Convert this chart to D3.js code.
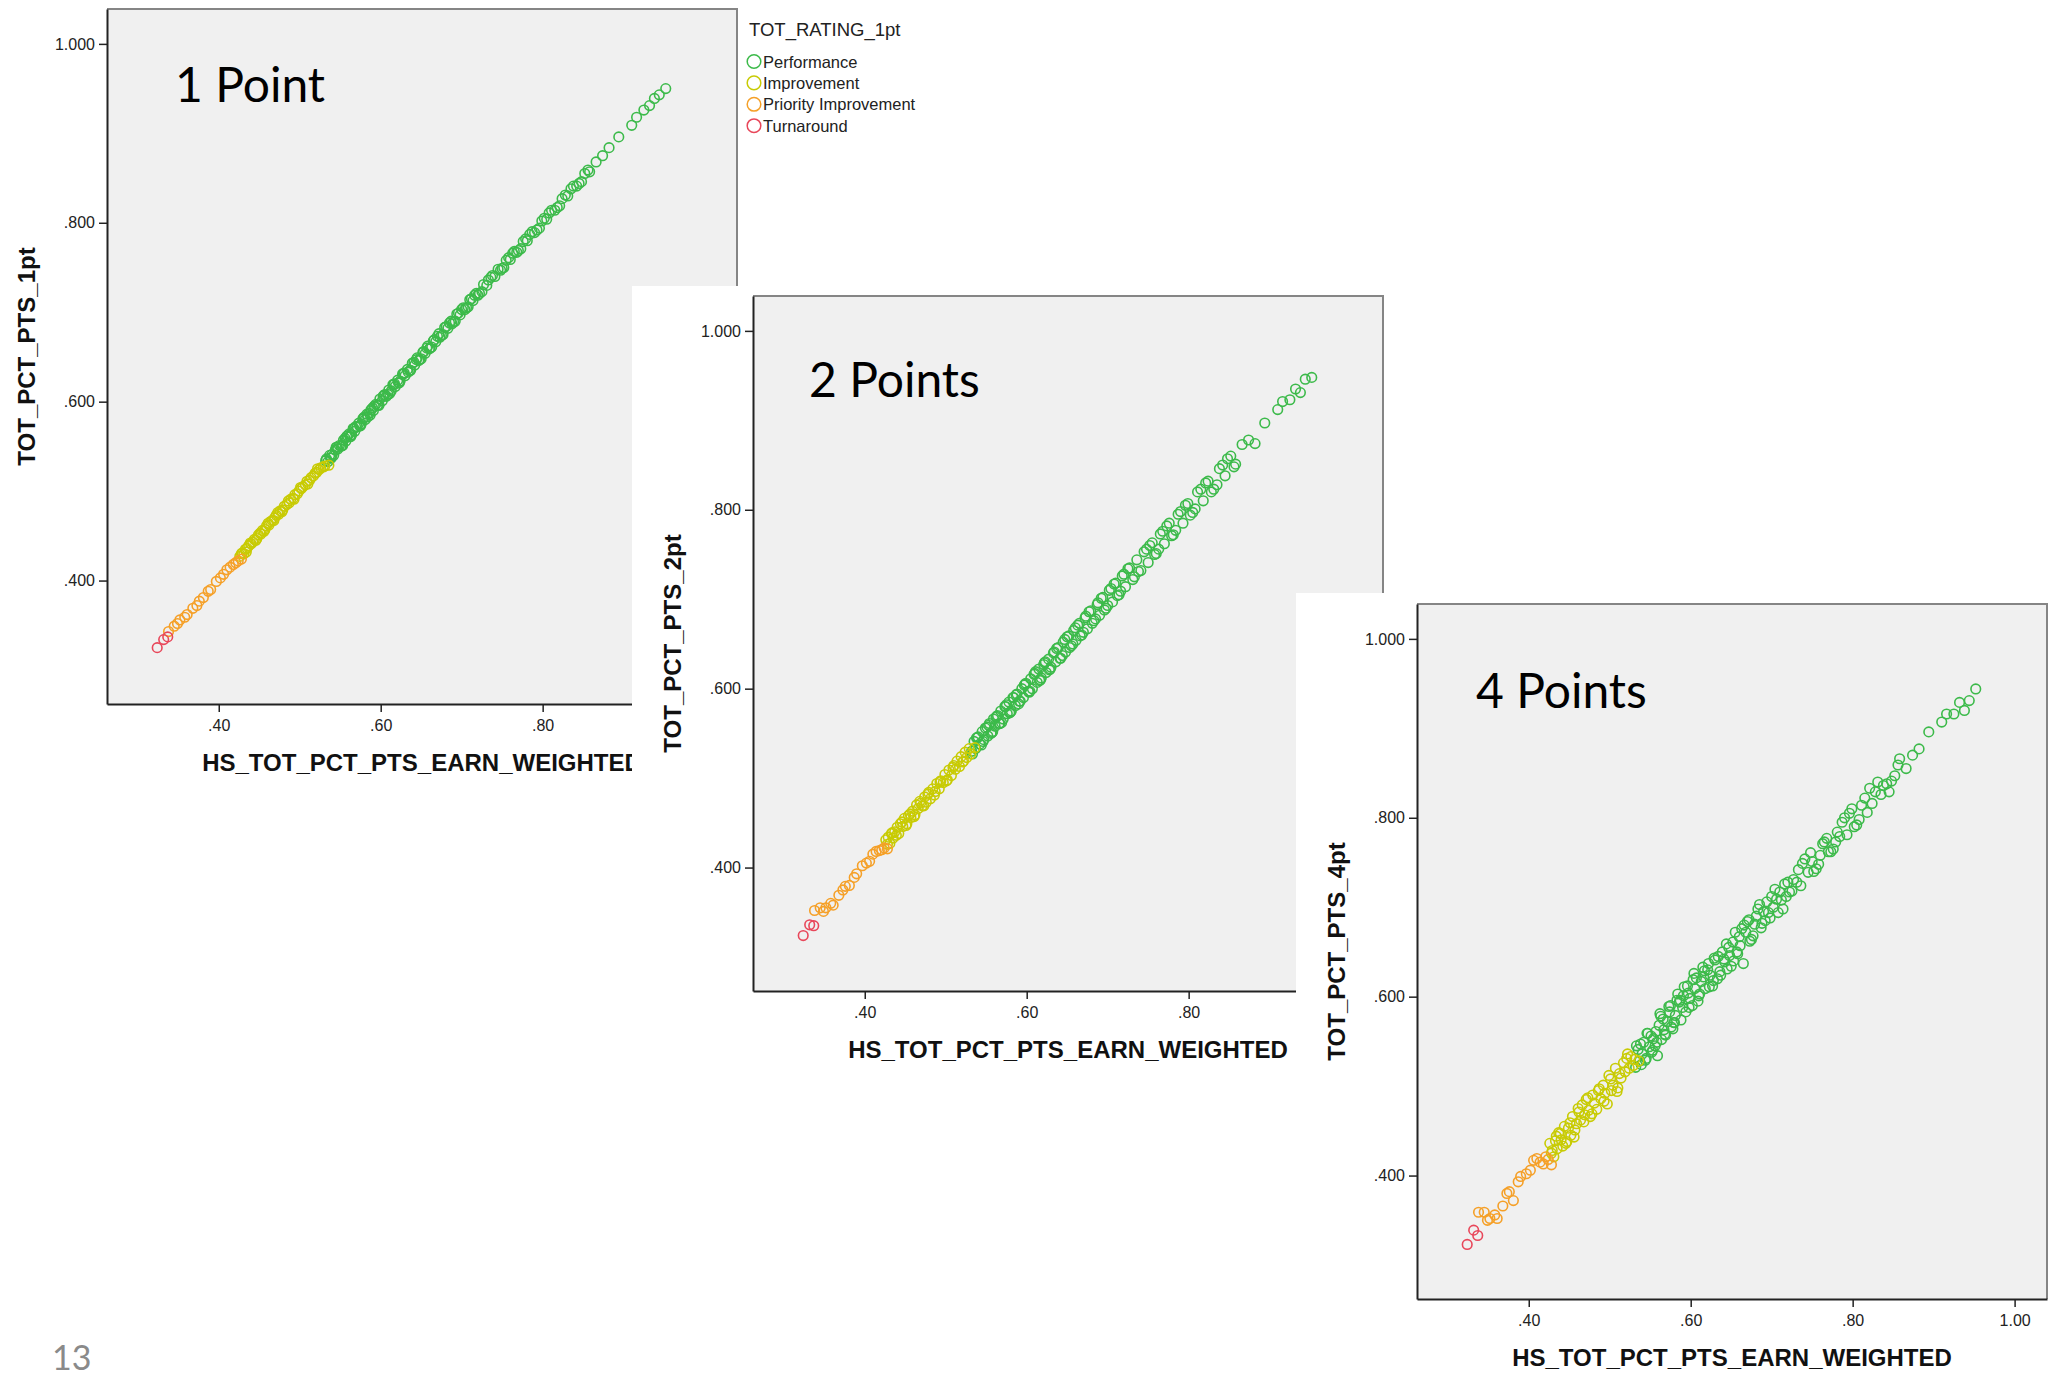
<!DOCTYPE html>
<html>
<head>
<meta charset="utf-8">
<script src="https://cdn.jsdelivr.net/npm/d3@7"></script>
<style>
  body { margin: 0; background: #fff; }
  svg { display: block; }
</style>
</head>
<body>
<svg id="chart" width="2053" height="1376"></svg>
<script>
// rating groups (legend order) and their colours
const ratingNames = ['Performance', 'Improvement', 'Priority Improvement', 'Turnaround'];
const ratingColors = ['#3cba4a', '#c8cb04', '#f5a028', '#e8475a'];

// HS_TOT_PCT_PTS_EARN_WEIGHTED and TOT_PCT_PTS_{1,2,4}pt, per school, grouped by rating
const turnaroundScore = [0.324, 0.332, 0.337];
const turnaround1pt = [0.325, 0.334, 0.337];
const turnaround2pt = [0.324, 0.336, 0.335];
const turnaround4pt = [0.323, 0.339, 0.333];

const priorityScore = [0.338, 0.345, 0.349, 0.352, 0.358, 0.361, 0.368, 0.373, 0.376, 0.381,
  0.387, 0.390, 0.397, 0.402, 0.406, 0.410, 0.414, 0.418, 0.421, 0.424, 0.428];
const priority1pt = [0.343, 0.349, 0.352, 0.356, 0.359, 0.362, 0.369, 0.372, 0.377, 0.381,
  0.388, 0.390, 0.399, 0.403, 0.407, 0.412, 0.415, 0.418, 0.420, 0.422, 0.424];
const priority2pt = [0.352, 0.355, 0.351, 0.355, 0.360, 0.358, 0.369, 0.375, 0.379, 0.380,
  0.389, 0.393, 0.402, 0.405, 0.407, 0.415, 0.418, 0.419, 0.420, 0.422, 0.421];
const priority4pt = [0.359, 0.359, 0.350, 0.352, 0.356, 0.352, 0.366, 0.380, 0.382, 0.372,
  0.393, 0.399, 0.402, 0.406, 0.417, 0.419, 0.415, 0.413, 0.421, 0.418, 0.412];

const improvementScore = [0.426, 0.429, 0.431, 0.433, 0.435, 0.437, 0.440, 0.442, 0.444, 0.447,
  0.449, 0.452, 0.454, 0.457, 0.459, 0.462, 0.464, 0.466, 0.469, 0.471,
  0.474, 0.476, 0.479, 0.481, 0.484, 0.487, 0.489, 0.492, 0.494, 0.497,
  0.499, 0.502, 0.504, 0.507, 0.509, 0.512, 0.514, 0.517, 0.519, 0.521,
  0.524, 0.526, 0.529, 0.531, 0.536,
  0.428, 0.434, 0.439, 0.446, 0.451, 0.456, 0.461, 0.468, 0.473, 0.478,
  0.486, 0.493, 0.501, 0.510, 0.522];
const improvement1pt = [0.427, 0.431, 0.430, 0.435, 0.436, 0.439, 0.441, 0.443, 0.446, 0.447,
  0.451, 0.452, 0.456, 0.457, 0.461, 0.462, 0.466, 0.467, 0.470, 0.473,
  0.474, 0.478, 0.479, 0.483, 0.485, 0.487, 0.491, 0.492, 0.496, 0.497,
  0.500, 0.503, 0.505, 0.507, 0.511, 0.512, 0.515, 0.517, 0.520, 0.521,
  0.524, 0.526, 0.527, 0.528, 0.529,
  0.430, 0.432, 0.442, 0.445, 0.453, 0.455, 0.464, 0.467, 0.476, 0.477,
  0.489, 0.491, 0.504, 0.508, 0.525];
const improvement2pt = [0.431, 0.434, 0.427, 0.438, 0.433, 0.440, 0.445, 0.438, 0.449, 0.446,
  0.455, 0.449, 0.458, 0.456, 0.463, 0.459, 0.470, 0.466, 0.472, 0.469,
  0.479, 0.473, 0.484, 0.477, 0.488, 0.485, 0.494, 0.488, 0.497, 0.495,
  0.504, 0.498, 0.509, 0.503, 0.512, 0.510, 0.519, 0.513, 0.524, 0.518,
  0.529, 0.523, 0.533, 0.527, 0.534,
  0.426, 0.439, 0.436, 0.451, 0.447, 0.460, 0.457, 0.474, 0.469, 0.482,
  0.481, 0.496, 0.497, 0.514, 0.519];
const improvement4pt = [0.436, 0.428, 0.421, 0.439, 0.430, 0.448, 0.440, 0.433, 0.455, 0.438,
  0.453, 0.445, 0.466, 0.451, 0.458, 0.471, 0.462, 0.479, 0.468, 0.485,
  0.473, 0.466, 0.490, 0.481, 0.474, 0.497, 0.486, 0.501, 0.492, 0.480,
  0.512, 0.495, 0.501, 0.520, 0.494, 0.514, 0.509, 0.526, 0.516, 0.531,
  0.520, 0.533, 0.523, 0.530, 0.528,
  0.425, 0.444, 0.447, 0.436, 0.459, 0.443, 0.475, 0.460, 0.487, 0.469,
  0.495, 0.483, 0.508, 0.498, 0.536];

const performanceScore = [
  0.532, 0.535, 0.537, 0.540, 0.542, 0.545, 0.547, 0.549, 0.552, 0.554,
  0.557, 0.559, 0.561, 0.564, 0.566, 0.568, 0.571, 0.573, 0.576, 0.578,
  0.581, 0.583, 0.586, 0.588, 0.591, 0.594, 0.596, 0.599, 0.602, 0.605,
  0.607, 0.610, 0.613, 0.615, 0.618, 0.621, 0.624, 0.627, 0.630, 0.633,
  0.636, 0.639, 0.642, 0.645, 0.648, 0.652, 0.655, 0.658, 0.661, 0.665,
  0.668, 0.672, 0.675, 0.679, 0.683, 0.687, 0.690, 0.694, 0.698, 0.702,
  0.706, 0.710, 0.714, 0.718, 0.722, 0.727, 0.731, 0.736, 0.741, 0.745,
  0.750, 0.755, 0.760, 0.765, 0.770, 0.776, 0.781, 0.787, 0.793, 0.799,
  0.805, 0.811, 0.818, 0.824, 0.831, 0.838, 0.845, 0.852, 0.858, 0.866,
  0.874, 0.882, 0.894, 0.910, 0.916, 0.925, 0.932, 0.938, 0.944, 0.952,
  0.538, 0.544, 0.551, 0.556, 0.562, 0.567, 0.574, 0.579, 0.584, 0.590,
  0.597, 0.603, 0.609, 0.616, 0.622, 0.628, 0.634, 0.641, 0.647, 0.653,
  0.660, 0.666, 0.673, 0.681, 0.688, 0.696, 0.704, 0.712, 0.720, 0.733,
  0.748, 0.758, 0.768, 0.779, 0.790, 0.802, 0.815, 0.828, 0.842, 0.856,
  0.533, 0.539, 0.546, 0.553, 0.558, 0.563, 0.569, 0.575, 0.580, 0.587,
  0.592, 0.598, 0.604, 0.611, 0.617, 0.623, 0.629, 0.637, 0.644, 0.650,
  0.657, 0.663, 0.670, 0.677, 0.685, 0.692, 0.700, 0.708, 0.716, 0.725,
  0.738, 0.752, 0.763, 0.773, 0.784, 0.796, 0.808, 0.821, 0.835, 0.848];
const performance1pt = [
  0.534, 0.533, 0.540, 0.541, 0.540, 0.549, 0.547, 0.551, 0.551, 0.557,
  0.556, 0.562, 0.564, 0.563, 0.570, 0.567, 0.572, 0.576, 0.575, 0.581,
  0.580, 0.586, 0.587, 0.591, 0.590, 0.597, 0.596, 0.603, 0.601, 0.608,
  0.606, 0.613, 0.612, 0.619, 0.617, 0.624, 0.623, 0.631, 0.629, 0.636,
  0.635, 0.643, 0.641, 0.649, 0.647, 0.655, 0.654, 0.662, 0.660, 0.668,
  0.667, 0.676, 0.674, 0.683, 0.682, 0.690, 0.689, 0.698, 0.697, 0.705,
  0.705, 0.714, 0.713, 0.721, 0.721, 0.731, 0.730, 0.739, 0.740, 0.748,
  0.749, 0.758, 0.759, 0.768, 0.769, 0.779, 0.780, 0.790, 0.792, 0.802,
  0.804, 0.814, 0.817, 0.827, 0.830, 0.841, 0.844, 0.855, 0.857, 0.868,
  0.875, 0.884, 0.896, 0.909, 0.918, 0.926, 0.931, 0.939, 0.943, 0.950,
  0.537, 0.546, 0.550, 0.559, 0.561, 0.570, 0.573, 0.582, 0.583, 0.593,
  0.596, 0.606, 0.608, 0.619, 0.621, 0.631, 0.633, 0.644, 0.646, 0.656,
  0.659, 0.669, 0.672, 0.684, 0.687, 0.699, 0.703, 0.715, 0.719, 0.736,
  0.747, 0.761, 0.767, 0.782, 0.789, 0.805, 0.814, 0.831, 0.841, 0.859,
  0.536, 0.537, 0.549, 0.551, 0.561, 0.561, 0.572, 0.573, 0.583, 0.585,
  0.595, 0.596, 0.607, 0.609, 0.620, 0.621, 0.632, 0.635, 0.647, 0.648,
  0.660, 0.661, 0.673, 0.675, 0.688, 0.690, 0.703, 0.706, 0.719, 0.723,
  0.741, 0.750, 0.766, 0.771, 0.787, 0.794, 0.811, 0.819, 0.838, 0.846];
const performance2pt = [
  0.530, 0.541, 0.533, 0.546, 0.538, 0.552, 0.543, 0.556, 0.547, 0.561,
  0.551, 0.566, 0.558, 0.570, 0.561, 0.575, 0.566, 0.580, 0.572, 0.585,
  0.575, 0.590, 0.581, 0.594, 0.586, 0.600, 0.590, 0.606, 0.597, 0.611,
  0.600, 0.617, 0.607, 0.622, 0.612, 0.627, 0.618, 0.633, 0.624, 0.640,
  0.630, 0.646, 0.634, 0.652, 0.641, 0.659, 0.648, 0.665, 0.654, 0.673,
  0.660, 0.679, 0.667, 0.687, 0.676, 0.694, 0.682, 0.702, 0.690, 0.710,
  0.697, 0.718, 0.705, 0.726, 0.714, 0.735, 0.722, 0.744, 0.732, 0.753,
  0.741, 0.763, 0.751, 0.773, 0.762, 0.785, 0.772, 0.795, 0.785, 0.807,
  0.797, 0.820, 0.810, 0.832, 0.823, 0.846, 0.838, 0.860, 0.851, 0.873,
  0.878, 0.874, 0.897, 0.912, 0.921, 0.923, 0.935, 0.931, 0.946, 0.948,
  0.545, 0.537, 0.557, 0.550, 0.568, 0.561, 0.580, 0.573, 0.590, 0.583,
  0.604, 0.596, 0.616, 0.609, 0.629, 0.621, 0.641, 0.634, 0.655, 0.646,
  0.668, 0.659, 0.681, 0.673, 0.696, 0.688, 0.712, 0.704, 0.728, 0.725,
  0.756, 0.750, 0.776, 0.771, 0.798, 0.794, 0.823, 0.820, 0.850, 0.848,
  0.527, 0.545, 0.541, 0.559, 0.552, 0.569, 0.562, 0.582, 0.574, 0.593,
  0.586, 0.605, 0.597, 0.619, 0.610, 0.630, 0.622, 0.645, 0.637, 0.658,
  0.650, 0.671, 0.663, 0.686, 0.678, 0.701, 0.693, 0.717, 0.709, 0.734,
  0.731, 0.760, 0.756, 0.782, 0.777, 0.805, 0.801, 0.830, 0.828, 0.857];
const performance4pt = [
  0.521, 0.541, 0.528, 0.536, 0.549, 0.531, 0.559, 0.544, 0.538, 0.553,
  0.561, 0.534, 0.568, 0.552, 0.575, 0.558, 0.572, 0.589, 0.566, 0.564,
  0.579, 0.596, 0.594, 0.574, 0.601, 0.583, 0.612, 0.598, 0.590, 0.609,
  0.621, 0.601, 0.617, 0.633, 0.609, 0.630, 0.624, 0.612, 0.641, 0.620,
  0.628, 0.650, 0.639, 0.631, 0.646, 0.661, 0.672, 0.648, 0.657, 0.637,
  0.672, 0.686, 0.664, 0.681, 0.698, 0.677, 0.695, 0.706, 0.688, 0.700,
  0.709, 0.717, 0.698, 0.712, 0.717, 0.731, 0.728, 0.724, 0.754, 0.739,
  0.751, 0.743, 0.758, 0.773, 0.762, 0.765, 0.784, 0.795, 0.781, 0.810,
  0.792, 0.814, 0.806, 0.816, 0.840, 0.836, 0.829, 0.847, 0.866, 0.855,
  0.870, 0.877, 0.896, 0.907, 0.916, 0.916, 0.929, 0.920, 0.931, 0.944,
  0.547, 0.529, 0.556, 0.545, 0.581, 0.563, 0.583, 0.571, 0.603, 0.588,
  0.604, 0.619, 0.595, 0.622, 0.637, 0.618, 0.645, 0.642, 0.655, 0.640,
  0.667, 0.680, 0.662, 0.690, 0.682, 0.694, 0.720, 0.708, 0.728, 0.742,
  0.761, 0.748, 0.777, 0.773, 0.800, 0.790, 0.822, 0.829, 0.838, 0.859,
  0.545, 0.524, 0.559, 0.540, 0.549, 0.578, 0.557, 0.590, 0.571, 0.596,
  0.611, 0.588, 0.626, 0.603, 0.629, 0.611, 0.643, 0.624, 0.659, 0.634,
  0.650, 0.676, 0.684, 0.668, 0.703, 0.685, 0.712, 0.694, 0.726, 0.718,
  0.749, 0.740, 0.771, 0.762, 0.779, 0.805, 0.798, 0.833, 0.826, 0.841];

// axis ticks and ranges
const xTicks = [0.40, 0.60, 0.80, 1.00];
const yTicks = [0.400, 0.600, 0.800, 1.000];
const xRange = [0.262, 1.04];
const yRange = [0.262, 1.039];

// one table of schools built from the arrays above
const groups = [
  { rating: 'Performance', score: performanceScore, pt1: performance1pt, pt2: performance2pt, pt4: performance4pt },
  { rating: 'Improvement', score: improvementScore, pt1: improvement1pt, pt2: improvement2pt, pt4: improvement4pt },
  { rating: 'Priority Improvement', score: priorityScore, pt1: priority1pt, pt2: priority2pt, pt4: priority4pt },
  { rating: 'Turnaround', score: turnaroundScore, pt1: turnaround1pt, pt2: turnaround2pt, pt4: turnaround4pt }
];
let schools = [];
groups.forEach(g => {
  let n = Math.min(g.score.length, g.pt1.length, g.pt2.length, g.pt4.length);
  for (let i = 0; i < n; i++) {
    schools.push({ rating: g.rating, x: g.score[i], pt1: g.pt1[i], pt2: g.pt2[i], pt4: g.pt4[i] });
  }
});

let color = d3.scaleOrdinal().domain(ratingNames).range(ratingColors);

const W = 630, H = 695;
const panels = [
  { key: 'pt1', label: '1 Point', yTitle: 'TOT_PCT_PTS_1pt', left: 107, top: 9, lx: 68, ly: 93, cover: null, legend: true },
  { key: 'pt2', label: '2 Points', yTitle: 'TOT_PCT_PTS_2pt', left: 753, top: 296, lx: 56, ly: 101, cover: [632, 286] },
  { key: 'pt4', label: '4 Points', yTitle: 'TOT_PCT_PTS_4pt', left: 1417, top: 604, lx: 59, ly: 104, cover: [1296, 593] }
];

let svg = d3.select('#chart');
svg.append('rect').attr('width', 2053).attr('height', 1376).attr('fill', '#fff');

let x = d3.scaleLinear().domain(xRange).range([0, W]);
let y = d3.scaleLinear().domain(yRange).range([H, 0]);
let fmtX = d => d3.format('.2f')(d).replace(/^0/, '');
let fmtY = d => d3.format('.3f')(d).replace(/^0/, '');

panels.forEach(p => {
  if (p.cover) {
    svg.append('rect')
      .attr('x', p.cover[0]).attr('y', p.cover[1])
      .attr('width', 2053 - p.cover[0]).attr('height', 1376 - p.cover[1])
      .attr('fill', '#fff');
  }

  let g = svg.append('g').attr('transform', `translate(${p.left},${p.top})`);

  g.append('rect').attr('width', W).attr('height', H).attr('fill', '#f0f0f0');
  g.append('path')
    .attr('d', `M0,0H${W}V${H}`)
    .attr('fill', 'none').attr('stroke', '#858585').attr('stroke-width', 2);

  let xAxis = g.append('g').attr('transform', `translate(0,${H})`)
    .call(d3.axisBottom(x).tickValues(xTicks).tickFormat(fmtX).tickSize(8).tickSizeOuter(0).tickPadding(8));
  let yAxis = g.append('g')
    .call(d3.axisLeft(y).tickValues(yTicks).tickFormat(fmtY).tickSize(8).tickSizeOuter(0).tickPadding(4));
  [xAxis, yAxis].forEach(a => {
    a.select('.domain').attr('stroke', '#222').attr('stroke-width', 2);
    a.selectAll('.tick line').attr('stroke', '#222').attr('stroke-width', 1.5);
    a.selectAll('text')
      .attr('font-family', 'Liberation Sans, Arial, sans-serif')
      .attr('font-size', 16)
      .attr('fill', '#222');
  });

  // points, performance first so the lower ratings sit on top
  g.append('g').selectAll('circle')
    .data(schools)
    .join('circle')
    .attr('cx', d => x(d.x))
    .attr('cy', d => y(d[p.key]))
    .attr('r', 4.8)
    .attr('fill', 'none')
    .attr('stroke', d => color(d.rating))
    .attr('stroke-width', 1.6);

  g.append('text')
    .attr('x', W / 2).attr('y', H + 67)
    .attr('text-anchor', 'middle')
    .attr('font-family', 'Liberation Sans, Arial, sans-serif')
    .attr('font-weight', 'bold').attr('font-size', 24)
    .attr('fill', '#111')
    .text('HS_TOT_PCT_PTS_EARN_WEIGHTED');

  g.append('text')
    .attr('transform', `translate(-72,${H / 2}) rotate(-90)`)
    .attr('text-anchor', 'middle')
    .attr('font-family', 'Liberation Sans, Arial, sans-serif')
    .attr('font-weight', 'bold').attr('font-size', 24)
    .attr('fill', '#111')
    .text(p.yTitle);

  g.append('text')
    .attr('x', p.lx).attr('y', p.ly)
    .attr('font-family', 'Lato, sans-serif')
    .attr('font-size', 48)
    .attr('fill', '#000')
    .text(p.label);

  if (p.legend) {
    let lg = g.append('g').attr('transform', `translate(${W + 10},0)`);
    lg.append('text')
      .attr('x', 2).attr('y', 27)
      .attr('font-family', 'Liberation Sans, Arial, sans-serif')
      .attr('font-size', 18.5).attr('fill', '#222')
      .text('TOT_RATING_1pt');
    ratingNames.forEach((name, i) => {
      let cy = 52.5 + i * 21.4;
      lg.append('circle')
        .attr('cx', 7).attr('cy', cy).attr('r', 6.8)
        .attr('fill', 'none').attr('stroke', color(name)).attr('stroke-width', 1.5);
      lg.append('text')
        .attr('x', 16).attr('y', cy + 6)
        .attr('font-family', 'Liberation Sans, Arial, sans-serif')
        .attr('font-size', 16.5).attr('fill', '#222')
        .text(name);
    });
  }
});

// slide number
svg.append('text')
  .attr('x', 52).attr('y', 1370)
  .attr('font-family', 'Lato, sans-serif')
  .attr('font-size', 34)
  .attr('fill', '#8a8a8a')
  .text('13');
</script>
</body>
</html>
